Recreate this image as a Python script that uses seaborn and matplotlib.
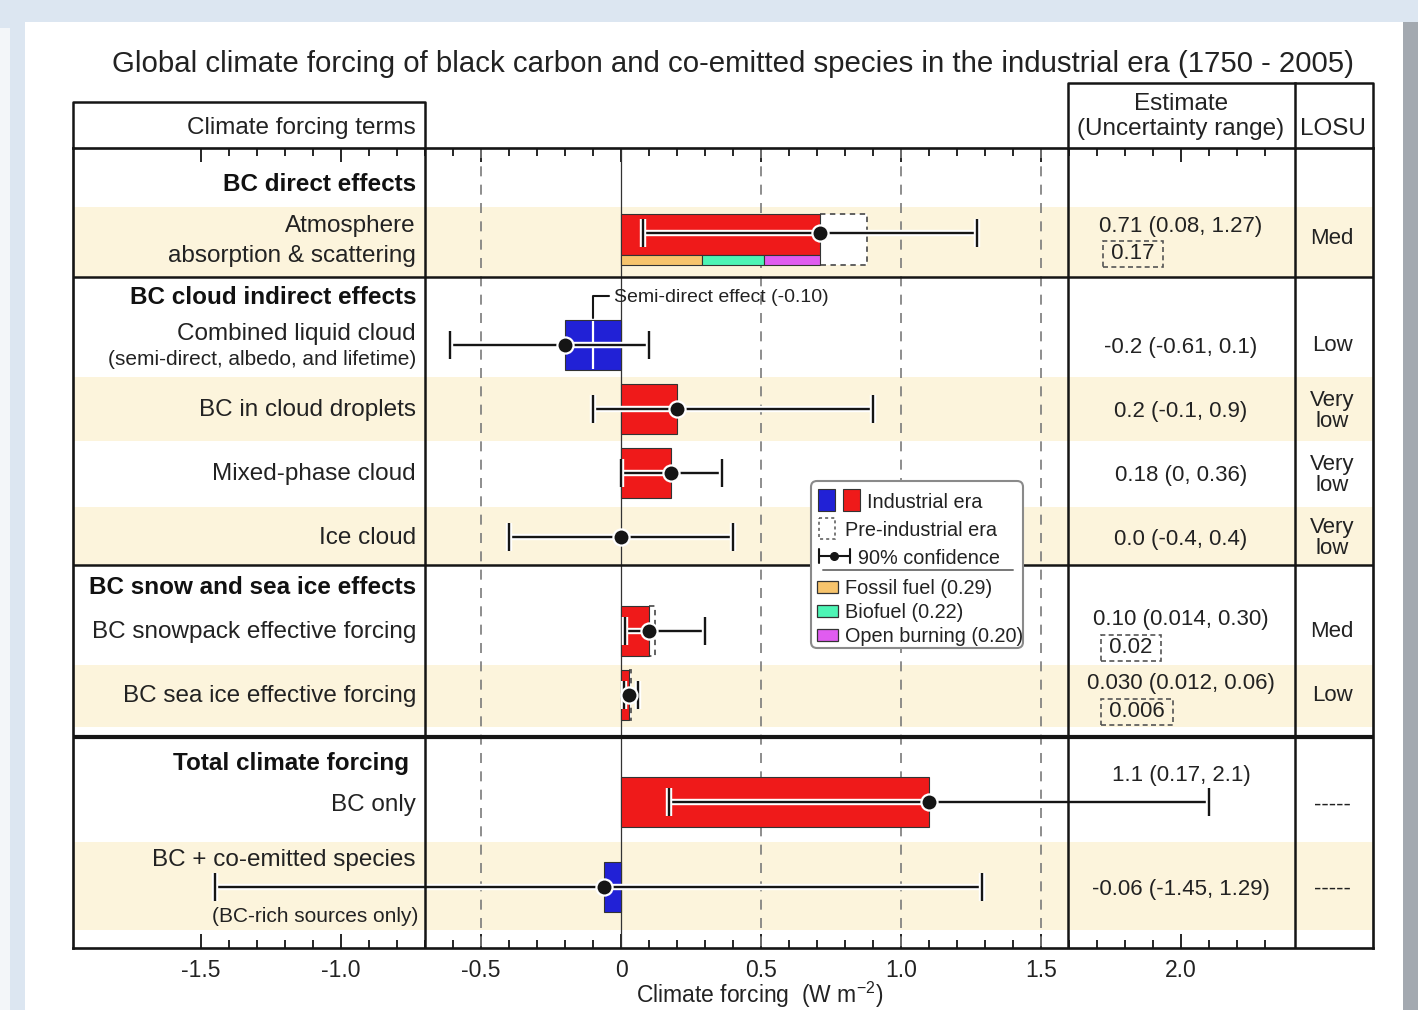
import numpy as np
import pandas as pd
import matplotlib
matplotlib.use("Agg")
import matplotlib.pyplot as plt
import matplotlib.patheffects as pe
from matplotlib.patches import Rectangle, FancyBboxPatch
import seaborn as sns

# ---------------- data ----------------
terms = ["Atmosphere absorption & scattering", "Combined liquid cloud", "BC in cloud droplets",
         "Mixed-phase cloud", "Ice cloud", "BC snowpack effective forcing",
         "BC sea ice effective forcing", "BC only", "BC + co-emitted species"]
best = [0.71, -0.20, 0.20, 0.18, 0.0, 0.10, 0.030, 1.1, -0.06]
low = [0.08, -0.61, -0.10, 0.0, -0.40, 0.014, 0.012, 0.17, -1.45]
high = [1.27, 0.10, 0.90, 0.36, 0.40, 0.30, 0.06, 2.1, 1.29]
has_bar = [True, True, True, True, False, True, True, True, True]
preindustrial = [0.17, 0, 0, 0, 0, 0.02, 0.006, 0, 0]
estimate_text = ["0.71 (0.08, 1.27)", "-0.2 (-0.61, 0.1)", "0.2 (-0.1, 0.9)", "0.18 (0, 0.36)",
                 "0.0 (-0.4, 0.4)", "0.10 (0.014, 0.30)", "0.030 (0.012, 0.06)",
                 "1.1 (0.17, 2.1)", "-0.06 (-1.45, 1.29)"]
preind_text = ["0.17", "", "", "", "", "0.02", "0.006", "", ""]
losu = ["Med", "Low", "Very\nlow", "Very\nlow", "Very\nlow", "Med", "Low", "-----", "-----"]
sources = ["Fossil fuel", "Biofuel", "Open burning"]
source_values = [0.29, 0.22, 0.20]
semi_direct = -0.10
sections = ["BC direct effects", "BC cloud indirect effects",
            "BC snow and sea ice effects", "Total climate forcing"]
row_labels = [["Atmosphere", "absorption & scattering"], ["Combined liquid cloud"],
              ["BC in cloud droplets"], ["Mixed-phase cloud"], ["Ice cloud"],
              ["BC snowpack effective forcing"], ["BC sea ice effective forcing"],
              ["BC only"], ["BC + co-emitted species"]]
sub_labels = ["", "(semi-direct, albedo, and lifetime)", "", "", "", "", "", "",
              "(BC-rich sources only)"]
tick_values = [-1.5, -1.0, -0.5, 0, 0.5, 1.0, 1.5, 2.0]
tick_labels = ["-1.5", "-1.0", "-0.5", "0", "0.5", "1.0", "1.5", "2.0"]
minor_ticks = [-1.4, -1.3, -1.2, -1.1, -0.9, -0.8, -0.7, -0.6, -0.4, -0.3, -0.2, -0.1,
               0.1, 0.2, 0.3, 0.4, 0.6, 0.7, 0.8, 0.9, 1.1, 1.2, 1.3, 1.4, 1.6, 1.7,
               1.8, 1.9, 2.1, 2.2, 2.3]
grid_values = [-0.5, 0.5, 1.0, 1.5]

# ---------------- layout (pixels) ----------------
W, H = 1418, 1010
PX0, PXU = 621, 280
DY = 2  # text baseline nudge
def X(px):
    return (px - PX0) / PXU

bar_c = [234.5, 345, 409, 473, 537, 631, 695, 802, 887]
bar_h = [41, 50, 50, 50, 50, 50, 50, 50, 50]
box_c = [239.5, 345, 409, 473, 537, 631, 695, 802, 887]
box_h = [51, 50, 50, 50, 50, 50, 50, 50, 50]
err_y = [233, 345, 409, 473, 537, 631, 695, 802, 887]
label_y = [[224, 254], [332], [408], [472], [536], [630], [694], [803], [858]]
sub_y = [0, 358, 0, 0, 0, 0, 0, 0, 915]
sub_x = [0, 416, 0, 0, 0, 0, 0, 0, 418]
est_y = [225, 346, 410, 474, 538, 618, 682, 774, 888]
pre_y = [252, 0, 0, 0, 0, 646, 710, 0, 0]
pre_x = [1133, 0, 0, 0, 0, 1131, 1137, 0, 0]
losu_y = [237, 344, 409, 473, 536, 630, 694, 803, 887]
section_y = [183, 296, 586, 762]
section_x = [416, 416, 416, 409]
bands = [(207, 277), (377, 441), (507, 565), (665, 727), (842, 930)]

RED, BLUE = "#EF1A1A", "#2121D6"
SRC_COLORS = ["#F7C46C", "#4DF5B5", "#E05CF0"]
CREAM = "#FCF4DC"
TXT = "#222222"
LINE = "#151515"

sns.set_theme(style="white")
plt.rcParams['font.family'] = ['Liberation Sans', 'DejaVu Sans']
plt.rcParams['mathtext.fontset'] = 'custom'
plt.rcParams['mathtext.rm'] = 'Liberation Sans'
plt.rcParams['mathtext.it'] = 'Liberation Sans:italic'

fig = plt.figure(figsize=(W / 100, H / 100), dpi=100, facecolor="#DCE6F1")
fig.patches.append(Rectangle((25 / W, 0), (1403 - 25) / W, (H - 22) / H,
                             transform=fig.transFigure, fc="white", ec="none", zorder=-5))
fig.patches.append(Rectangle((0, 0), 10 / W, (H - 28) / H,
                             transform=fig.transFigure, fc="#F3F6F9", ec="none", zorder=-5))
fig.patches.append(Rectangle((1403 / W, 0), 15 / W, (H - 22) / H,
                             transform=fig.transFigure, fc="#A3A9B0", ec="none", zorder=-5))

ax = fig.add_axes([73 / W, (H - 948) / H, 1300 / W, 800 / H])
ax.patch.set_alpha(0)

# shaded bands
for y0, y1 in bands:
    ax.axhspan(y0, y1, color=CREAM, lw=0, zorder=0)

# grid lines
ax.vlines(grid_values, 148, 948, colors="#7a7a7a", linestyles=(0, (6, 5)), lw=1.2, zorder=1)
ax.axvline(0, color="#333333", lw=0.9, zorder=1)

# table lines
for yy, lw in [(277, 1.8), (565, 1.8), (737, 3.0)]:
    ax.axhline(yy, color=LINE, lw=lw, zorder=8)
for xx in [425, 1068, 1295]:
    ax.axvline(X(xx), color=LINE, lw=1.8, zorder=8)
# header boxes
hdr = dict(color=LINE, lw=1.8, clip_on=False, zorder=8, solid_capstyle="projecting")
ax.plot([X(73), X(73), X(425), X(425)], [148, 102, 102, 148], **hdr)
ax.plot([X(1068), X(1068), X(1373), X(1373)], [148, 83, 83, 148], **hdr)
ax.plot([X(1295), X(1295)], [83, 148], **hdr)

# pre-industrial dashed boxes
for i in range(len(terms)):
    if preindustrial[i] > 0:
        ax.barh(box_c[i], preindustrial[i], left=best[i], height=box_h[i], color="white",
                edgecolor="#555555", linestyle=(0, (3, 2.5)), lw=1.3, zorder=2)

# bars
for i in range(len(terms)):
    if has_bar[i]:
        ax.barh(bar_c[i], best[i], left=0, height=bar_h[i],
                color=RED if best[i] > 0 else BLUE, edgecolor="#333333", lw=0.8, zorder=3)
# source split for atmosphere
left = 0
for v, c in zip(source_values, SRC_COLORS):
    ax.barh(260, v, left=left, height=10, color=c, edgecolor="#333333", lw=0.8, zorder=3)
    left += v

# semi-direct effect
ax.vlines(semi_direct, 321, 369, colors="white", lw=1.6, zorder=4)
ax.plot([semi_direct, semi_direct, X(609)], [318, 296, 296], color=LINE, lw=1.5, zorder=4)
ax.text(X(614), 296 + DY, f"Semi-direct effect ({semi_direct:.2f})", fontsize=14, color=TXT,
        ha="left", va="center", zorder=4)

# error bars
halo = [pe.Stroke(linewidth=4.6, foreground="white"), pe.Normal()]
for i in range(len(terms)):
    eb = ax.errorbar(best[i], err_y[i], xerr=[[best[i] - low[i]], [high[i] - best[i]]],
                     fmt="none", ecolor=LINE, elinewidth=1.7, capsize=10, capthick=1.7,
                     zorder=6)
    for cl in eb[1]:
        cl.set_path_effects(halo)
    for bl in eb[2]:
        bl.set_path_effects(halo)

df = pd.DataFrame({"term": terms, "best": best, "y": err_y})
sns.scatterplot(data=df, x="best", y="y", s=135, color=LINE, edgecolor="white",
                linewidth=1.6, zorder=7, ax=ax, legend=False)

# axes / ticks
ax.set_xlim(X(73), X(1373))
ax.set_ylim(948, 148)
ax.set_yticks([])
ax.set_ylabel("")
ax.set_xticks(tick_values, tick_labels)
ax.set_xticks(minor_ticks, minor=True)
ax.tick_params(axis="x", which="both", direction="in", top=True, bottom=True,
               color=LINE, labelcolor=TXT, labelsize=16.5, pad=8)
ax.tick_params(axis="x", which="major", length=10, width=1.3)
ax.tick_params(axis="x", which="minor", length=5.5, width=1.3)
for s in ax.spines.values():
    s.set_visible(True)
    s.set_color(LINE)
    s.set_linewidth(1.9)
    s.set_zorder(9)
ax.set_xlabel("Climate forcing  (W m$^{\\mathrm{-2}}$)", fontsize=16.5, color=TXT)
ax.xaxis.set_label_coords((760 - 73) / 1300, -(980 - 948) / 800)
ax.xaxis.label.set_va("top")

# left column texts
for t, yy, xx in zip(sections, section_y, section_x):
    ax.text(X(xx), yy + DY, t, fontsize=17.5, fontweight="bold", color="#111111",
            ha="right", va="center", zorder=9)
for i in range(len(terms)):
    for line, yy in zip(row_labels[i], label_y[i]):
        ax.text(X(416), yy + DY, line, fontsize=17.5, color=TXT, ha="right", va="center",
                zorder=9)
    if sub_labels[i]:
        ax.text(X(sub_x[i]), sub_y[i] + DY, sub_labels[i], fontsize=15, color=TXT,
                ha="right", va="center", zorder=9)

# right columns
for i in range(len(terms)):
    ax.text(X(1181), est_y[i] + DY, estimate_text[i], fontsize=16, color=TXT,
            ha="center", va="center", zorder=9)
    if preind_text[i]:
        ax.text(X(pre_x[i]), pre_y[i] + DY, f" {preind_text[i]} ", fontsize=16, color=TXT,
                ha="center", va="center", zorder=9,
                bbox=dict(boxstyle="square,pad=0.1", fc="none", ec="#555555",
                          ls=(0, (3, 2)), lw=1.2))
    ax.text(X(1332), losu_y[i] + DY, losu[i], fontsize=16, color=TXT, ha="center",
            va="center", linespacing=0.95, zorder=9)

# headers and title
ax.text(X(416), 126 + DY, "Climate forcing terms", fontsize=17.5, color=TXT, ha="right",
        va="center")
ax.text(X(1181), 102 + DY, "Estimate", fontsize=17.5, color=TXT, ha="center", va="center")
ax.text(X(1181), 127 + DY, "(Uncertainty range)", fontsize=17.5, color=TXT, ha="center",
        va="center")
ax.text(X(1333), 127 + DY, "LOSU", fontsize=17.5, color=TXT, ha="center", va="center")
ax.text(X(733), 62 + DY, "Global climate forcing of black carbon and co-emitted species in the "
        "industrial era (1750 - 2005)", fontsize=21.2, color=TXT, ha="center", va="center")

# ---------------- legend (pixel overlay) ----------------
lax = fig.add_axes([0, 0, 1, 1], zorder=10)
lax.set_xlim(0, W)
lax.set_ylim(H, 0)
lax.axis("off")
lax.add_patch(FancyBboxPatch((811, 481), 212, 167, boxstyle="round,pad=0,rounding_size=6",
                             fc="white", ec="#8a8a8a", lw=1.5))
lax.add_patch(Rectangle((818, 489), 17, 22, fc=BLUE, ec="#333333", lw=0.8))
lax.add_patch(Rectangle((843, 489), 17, 22, fc=RED, ec="#333333", lw=0.8))
lax.text(867, 500 + DY, "Industrial era", fontsize=14.3, color=TXT, va="center")
lax.add_patch(Rectangle((819, 518), 16, 21, fc="none", ec="#555555", ls=(0, (2, 2)), lw=1.1))
lax.text(845, 528 + DY, "Pre-industrial era", fontsize=14.3, color=TXT, va="center")
lax.plot([819, 850], [556, 556], color=LINE, lw=1.5)
lax.plot([819, 819], [549, 563], color=LINE, lw=1.5)
lax.plot([850, 850], [549, 563], color=LINE, lw=1.5)
lax.plot([834], [556], "o", color=LINE, ms=5.5)
lax.text(858, 556 + DY, "90% confidence", fontsize=14.3, color=TXT, va="center")
lax.plot([823, 1013], [570, 570], color="#777777", lw=1.4)
for k, (s, v, c) in enumerate(zip(sources, source_values, SRC_COLORS)):
    yy = 581 + 24 * k
    lax.add_patch(Rectangle((817, yy), 21, 12, fc=c, ec="#333333", lw=0.9))
    lax.text(845, yy + 6 + DY, f"{s} ({v:.2f})", fontsize=14.3, color=TXT, va="center")

fig.savefig("out.png", dpi=100, facecolor=fig.get_facecolor())
